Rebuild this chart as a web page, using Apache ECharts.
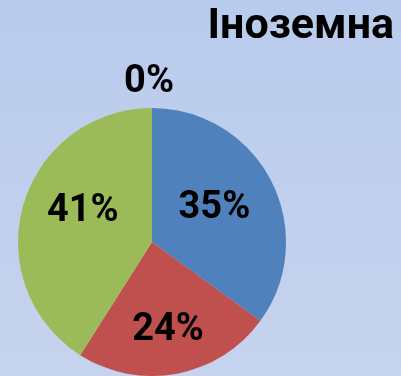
<!DOCTYPE html>
<html>
<head>
<meta charset="utf-8">
<script src="https://cdn.jsdelivr.net/npm/echarts@6/dist/echarts.min.js"></script>
<style>
  html, body { margin: 0; padding: 0; }
  #chart { width: 401px; height: 376px; }
</style>
</head>
<body>
<div id="chart"></div>
<script>
// Share of students by foreign language group
const titleText = 'Іноземна';
const categories = ['Група 1', 'Група 2', 'Група 3', 'Група 4'];
const shares = [35, 24, 41, 0];
const colors = ['#4f81bd', '#c0504d', '#9bbb59', '#8064a2'];

const chart = echarts.init(document.getElementById('chart'), null, { renderer: 'canvas' });

const labelFont = {
  fontFamily: 'Roboto',
  fontWeight: 'bold',
  fontSize: 38,
  color: '#000'
};

// per-slice nudges of the labels
const labelOffsets = [[0, -2], [3, 20], [-2, -11], [27, -14]];

const data = categories.map((name, i) => {
  const item = {
    name: name,
    value: shares[i],
    itemStyle: { color: colors[i] }
  };
  if (shares[i] === 0) {
    item.label = { position: 'outside', offset: labelOffsets[i] };
    item.labelLine = { show: false };
  } else {
    item.label = { position: 'inside', offset: labelOffsets[i] };
  }
  return item;
});

chart.setOption({
  backgroundColor: new echarts.graphic.LinearGradient(0, 0, 0, 1, [
    { offset: 0, color: '#b9cbec' },
    { offset: 1, color: '#c6d3ee' }
  ]),
  animation: false,
  title: {
    text: titleText,
    right: 2,
    top: 1,
    textStyle: {
      fontFamily: 'Roboto',
      fontWeight: 'bold',
      fontSize: 43,
      color: '#000'
    }
  },
  series: [{
    type: 'pie',
    center: [152, 242],
    radius: [0, 134],
    startAngle: 90,
    clockwise: true,
    avoidLabelOverlap: false,
    minShowLabelAngle: 0,
    stillShowZeroSum: true,
    label: Object.assign({
      show: true,
      formatter: p => p.value + '%'
    }, labelFont),
    labelLine: { show: false, length: 12, length2: 0 },
    emphasis: { disabled: true },
    data: data
  }]
});
</script>
</body>
</html>
